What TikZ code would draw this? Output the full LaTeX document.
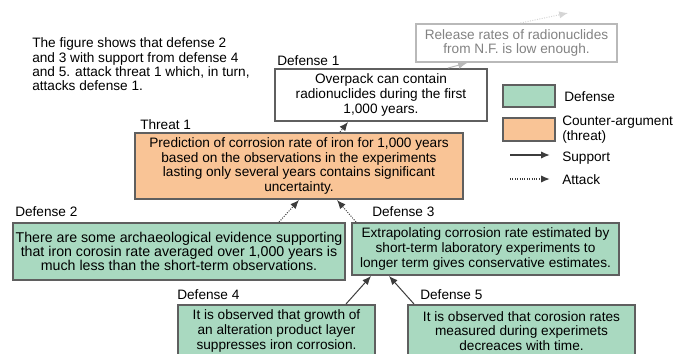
\documentclass[tikz,border=0pt]{standalone}
\usepackage{fontspec}
\setmainfont{Liberation Sans}
\usetikzlibrary{arrows.meta}

\begin{document}
\begin{tikzpicture}[
  font=\fontsize{9.7}{10.5}\selectfont,
  argbox/.style={draw=my_border, line width=0.05cm, align=center, inner sep=0.05cm},
  defbox/.style={argbox, fill=my_green},
  threatbox/.style={argbox, fill=my_orange},
  support/.style={draw=my_line, line width=0.025cm, -{Latex[length=2.2mm,width=1.8mm]}},
  attack/.style={support, densely dotted},
  boxlabel/.style={anchor=west, inner sep=0pt}
]
\definecolor{my_green}{RGB}{169,217,192}
\definecolor{my_orange}{RGB}{249,196,150}
\definecolor{my_border}{RGB}{95,95,95}
\definecolor{my_line}{RGB}{60,60,60}
\definecolor{my_grey}{RGB}{185,185,185}
\definecolor{my_greytext}{RGB}{130,130,130}
\useasboundingbox (0,0) rectangle (17.125,-8.825);
% intro text
\node[boxlabel, align=left, font=\fontsize{9.7}{10.2}\selectfont] (gist) at (0.8,-1.6125) {The figure shows that defense 2\\and 3 with support from defense 4\\and 5. attack threat 1 which, in turn,\\attacks defense 1.};
% argument boxes
\node[argbox, draw=my_grey, text=my_greytext, minimum width=5.025cm, minimum height=0.95cm] (release) at (12.9125,-1.075) {Release rates of radionuclides\\from N.F. is low enough.};
\node[argbox, fill=white, minimum width=5.3cm, minimum height=1.3cm] (def1) at (9.525,-2.375) {Overpack can contain\\radionuclides during the first\\1,000 years.};
\node[threatbox, minimum width=8.2cm, minimum height=1.65cm] (threat) at (7.475,-4.15) {Prediction of corrosion rate of iron for 1,000 years\\based on the observations in the experiments\\lasting only several years contains significant\\uncertainty.};
\node[defbox, minimum width=8.3cm, minimum height=1.425cm, font=\fontsize{10.1}{9.8}\selectfont] (def2) at (4.475,-6.2875) {There are some archaeological evidence supporting\\that iron corosin rate averaged over 1,000 years is\\much less than the short-term observations.};
\node[defbox, minimum width=6.675cm, minimum height=1.3cm] (def3) at (12.1375,-6.225) {Extrapolating corrosion rate estimated by\\short-term laboratory experiments to\\longer term gives conservative estimates.};
\node[defbox, minimum width=4.925cm, minimum height=1.3cm] (def4) at (6.9125,-8.275) {It is observed that growth of\\an alteration product layer\\suppresses iron corrosion.};
\node[defbox, minimum width=5.675cm, minimum height=1.3cm] (def5) at (13.0375,-8.275) {It is observed that corosion rates\\measured during experimets\\decreaces with time.};
% box titles
\node[boxlabel] (def1title) at (6.925,-1.525) {Defense 1};
\node[boxlabel] (threattitle) at (3.5,-3.125) {Threat 1};
\node[boxlabel] (def2title) at (0.375,-5.3) {Defense 2};
\node[boxlabel] (def3title) at (9.3,-5.3) {Defense 3};
\node[boxlabel] (def4title) at (4.425,-7.375) {Defense 4};
\node[boxlabel] (def5title) at (10.5,-7.375) {Defense 5};
% legend
\node[defbox, minimum width=1.3cm, minimum height=0.55cm] (keydef) at (13.225,-2.4) {};
\node[threatbox, minimum width=1.3cm, minimum height=0.575cm] (keythreat) at (13.225,-3.2375) {};
\node[boxlabel] (keydeftext) at (14.1,-2.425) {Defense};
\node[boxlabel, align=left] (keythreattext) at (14.05,-3.25) {Counter-argument\\(threat)};
\node[boxlabel] (keysuptext) at (14.05,-3.95) {Support};
\node[boxlabel] (keyatttext) at (14.05,-4.5) {Attack};
\coordinate (keysupa) at (12.75,-3.875);
\coordinate (keysupb) at (13.75,-3.875);
\coordinate (keyatta) at (12.75,-4.475);
\coordinate (keyattb) at (13.75,-4.475);
\draw[support, line width=0.04cm] (keysupa) -- (keysupb);
\draw[attack, line width=0.04cm] (keyatta) -- (keyattb);
% connectors
\coordinate (releaseout) at (14.2,-0.325);
\draw[support, draw=my_grey] ([xshift=-1cm]def1.north east) -- ([xshift=-1.2375cm]release.south);
\draw[attack, draw=my_grey!60] ([xshift=0.1cm]release.north) -- (releaseout);
\draw[attack] ([xshift=1.025cm]threat.north) -- ([xshift=-0.825cm]def1.south);
\draw[attack] ([xshift=2.5cm]def2.north) -- (threat.south);
\draw[attack] ([xshift=0.125cm]def3.north west) -- ([xshift=0.95cm]threat.south);
\draw[support] ([xshift=-0.75cm]def4.north east) -- ([xshift=0.5cm]def3.south west);
\draw[support] ([xshift=0.175cm]def5.north west) -- ([xshift=0.95cm]def3.south west);
\end{tikzpicture}
\end{document}
